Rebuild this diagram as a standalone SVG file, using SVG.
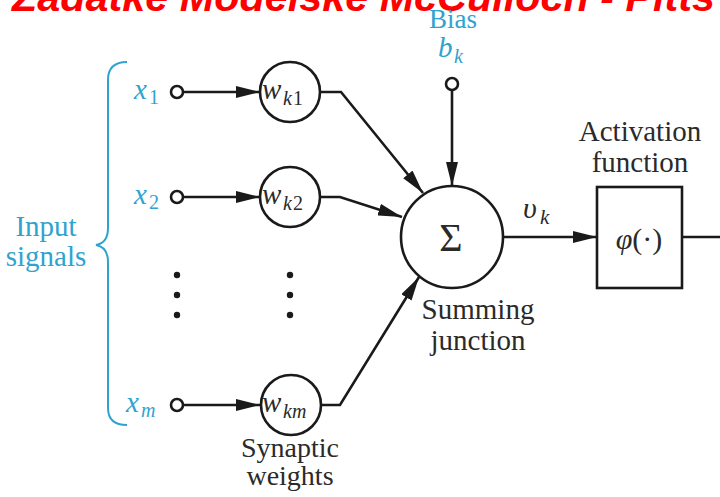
<svg xmlns="http://www.w3.org/2000/svg" width="720" height="497" viewBox="0 0 720 497">
<defs>
<style>
.ln{stroke:#1a1a1a;stroke-width:2.6;fill:none}
.nd{stroke:#1a1a1a;stroke-width:2.6;fill:#fff}
.t{font-family:"Liberation Serif","DejaVu Serif",serif;fill:#2a2a2a}
.b{font-family:"Liberation Serif","DejaVu Serif",serif;fill:#2fa3d0}
.i{font-style:italic}
.title{font-family:"Liberation Sans",Arial,sans-serif;font-weight:bold;font-style:italic;fill:#ff0000;font-size:40px}
</style>
<marker id="ah" viewBox="0 0 24 12" refX="24" refY="6" markerWidth="24" markerHeight="12" markerUnits="userSpaceOnUse" orient="auto">
<path d="M0,0 L24,6 L0,12 z" fill="#1a1a1a"/>
</marker>
</defs>
<rect width="720" height="497" fill="#ffffff"/>
<text class="title" x="12" y="11" textLength="703" lengthAdjust="spacingAndGlyphs">Zadatke Modelske McCulloch - Pitts</text>

<g id="connectors">
<line class="ln" x1="183" y1="92" x2="260" y2="92" marker-end="url(#ah)"/>
<line class="ln" x1="183" y1="197" x2="260" y2="197" marker-end="url(#ah)"/>
<line class="ln" x1="183" y1="405" x2="260" y2="405" marker-end="url(#ah)"/>
<polyline class="ln" points="320,92 341,92 423,193" marker-end="url(#ah)"/>
<polyline class="ln" points="320,197 340,197 402,217" marker-end="url(#ah)"/>
<polyline class="ln" points="321,405 340,405 419,277" marker-end="url(#ah)"/>
<line class="ln" x1="452" y1="90" x2="452" y2="186" marker-end="url(#ah)"/>
<line class="ln" x1="503" y1="237" x2="597" y2="237" marker-end="url(#ah)"/>
<line class="ln" x1="682" y1="237" x2="720" y2="237"/>
</g>

<g id="inputs-label">
<path d="M127,62 Q108,62 108,80 L108,228 Q108,243 96,245 Q108,247 108,262 L108,408 Q108,425 127,425" fill="none" stroke="#2fa3d0" stroke-width="2"/>
<text class="b" x="46" y="236" font-size="29" text-anchor="middle">Input</text>
<text class="b" x="46" y="266" font-size="29" text-anchor="middle">signals</text>
</g>

<g id="x1">
<text class="b i" x="134" y="99" font-size="29">x</text><text class="b" x="149" y="104" font-size="20">1</text>
<circle class="nd" cx="177" cy="92" r="6"/>
</g>
<g id="x2">
<text class="b i" x="134" y="204" font-size="29">x</text><text class="b" x="149" y="209" font-size="20">2</text>
<circle class="nd" cx="177" cy="197" r="6"/>
</g>
<g id="xm">
<text class="b i" x="126" y="412" font-size="29">x</text><text class="b i" x="141" y="417" font-size="20">m</text>
<circle class="nd" cx="177" cy="405" r="6"/>
</g>

<g id="dots">
<circle cx="177" cy="275" r="3.2" fill="#1a1a1a"/>
<circle cx="177" cy="295" r="3.2" fill="#1a1a1a"/>
<circle cx="177" cy="315" r="3.2" fill="#1a1a1a"/>
<circle cx="290" cy="275" r="3.2" fill="#1a1a1a"/>
<circle cx="290" cy="295" r="3.2" fill="#1a1a1a"/>
<circle cx="290" cy="315" r="3.2" fill="#1a1a1a"/>
</g>

<g id="wk1">
<circle class="nd" cx="290" cy="92" r="30"/>
<text class="t i" x="262" y="99" font-size="29">w</text><text class="t i" x="283" y="105" font-size="20">k</text><text class="t" x="293" y="105" font-size="20">1</text>
</g>
<g id="wk2">
<circle class="nd" cx="290" cy="197" r="30"/>
<text class="t i" x="262" y="204" font-size="29">w</text><text class="t i" x="283" y="210" font-size="20">k</text><text class="t" x="293" y="210" font-size="20">2</text>
</g>
<g id="wkm">
<circle class="nd" cx="291" cy="405" r="30"/>
<text class="t i" x="262" y="412" font-size="29">w</text><text class="t i" x="283" y="418" font-size="20">km</text>
</g>
<g id="synaptic-label">
<text class="t" x="290" y="457" font-size="28" text-anchor="middle">Synaptic</text>
<text class="t" x="290" y="485" font-size="28" text-anchor="middle">weights</text>
</g>

<g id="bias">
<text class="b" x="453" y="28" font-size="27" text-anchor="middle">Bias</text>
<text class="b i" x="438" y="57" font-size="29">b</text><text class="b i" x="454" y="63" font-size="20">k</text>
<circle class="nd" cx="452" cy="84" r="6"/>
</g>

<g id="sum">
<circle class="nd" cx="452" cy="237" r="51"/>
<text class="t" x="451" y="251" font-size="40" text-anchor="middle">Σ</text>
<text class="t" x="478" y="319" font-size="29" text-anchor="middle">Summing</text>
<text class="t" x="478" y="350" font-size="29" text-anchor="middle">junction</text>
</g>

<g id="vk">
<text class="t i" x="523" y="218" font-size="30">υ</text><text class="t i" x="540" y="224" font-size="21">k</text>
</g>

<g id="activation">
<rect class="nd" x="597" y="187" width="85" height="101"/>
<text class="t" x="639" y="249" font-size="30" text-anchor="middle"><tspan font-style="italic">φ</tspan>(·)</text>
<text class="t" x="640" y="141" font-size="29" text-anchor="middle">Activation</text>
<text class="t" x="640" y="172" font-size="29" text-anchor="middle">function</text>
</g>
</svg>
